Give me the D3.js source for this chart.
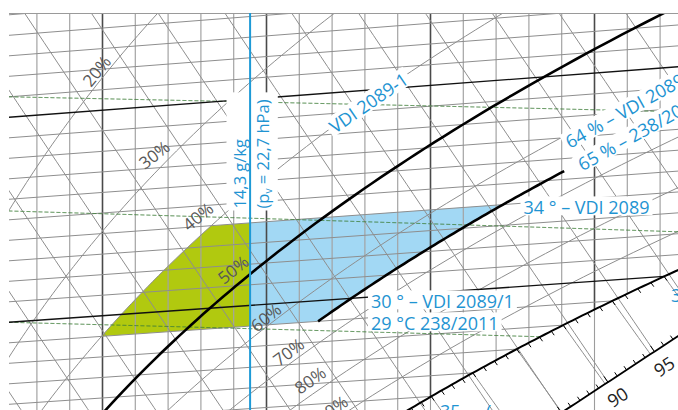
<!DOCTYPE html>
<html><head><meta charset="utf-8">
<script src="https://cdn.jsdelivr.net/npm/d3@7"></script>
<style>
html,body{margin:0;padding:0;background:#fff;}
svg{display:block;}
text{font-family:"Open Sans","Noto Sans",sans-serif;}
</style></head><body>
<svg id="chart" width="678" height="410"></svg>
<script>
// ================= DATA =================
const pressure = 1013.25;                       // hPa
const moistureLines = d3.range(7, 29);          // g/kg, thin vertical lines
const moistureMajor = [10, 15, 20, 25];         // g/kg, dark lines
const isothermValues = d3.range(20, 48);        // °C
const isothermBold = [30, 40];                  // °C
const enthalpyValues = d3.range(40, 120, 5);    // kJ/kg
const rhGray = [10, 20, 30, 40, 60, 70, 80, 90];// %
const rhBold = 50;                              // %
const rhZoneMax = 65.8;                         // % (curve labelled 64 % / 65 %)
const rhZoneMaxRange = [29, 35.4];              // °C
const zoneTemps = [29, 34];                     // °C
const zoneRhMin = 40;                           // %
const zoneMoistureLimit = 14.5;                 // g/kg as drawn (label 14,3 g/kg)
const fogIsotherms = d3.range(20, 33);          // °C
const satTicks = d3.range(22, 32.01, 0.25);     // °C
const hScaleTicks = d3.range(75, 111, 1);       // kJ/kg
const hScaleLabels = [90, 95];                  // kJ/kg
const hScaleEnds = {x: [24.1, 27.55], t: [23.9, 27.1]};
const densityX = [7.15, 27.5];                  // g/kg
const densityLines = [                          // kg/m³, temperature at densityX ends
  {rho: 1.12, t: [41.0, 37.85]},
  {rho: 1.14, t: [35.43, 32.10]},
  {rho: 1.16, t: [30.0, 26.88]}
];
const rhLabels = [
  {text:'20%', x:91,  y:88,  a:-51},
  {text:'30%', x:145, y:170, a:-38.3},
  {text:'40%', x:189, y:232, a:-39.5},
  {text:'50%', x:224, y:285, a:-38.7},
  {text:'60%', x:257, y:333, a:-39.5},
  {text:'70%', x:279, y:367, a:-36.9},
  {text:'80%', x:300, y:395, a:-35},
  {text:'90%', x:322, y:424, a:-35}
];
const blueLabels = [
  {parts:[{text:'VDI 2089-1'}], x:335, y:134, a:-34.5, size:18, box:true},
  {parts:[{text:'64 % – VDI 2089'}], x:570, y:149, a:-29.2, size:18, box:true},
  {parts:[{text:'65 % – 238/2011'}], x:582.5, y:171.5, a:-29.2, size:18, box:true},
  {parts:[{text:'34 ° – VDI 2089'}], x:523.5, y:213.5, a:0, size:18, box:true},
  {parts:[{text:'30 ° – VDI 2089/1'}], x:371, y:307.5, a:0, size:18, box:true},
  {parts:[{text:'29 °C 238/2011'}], x:371, y:329.5, a:0, size:18, box:true},
  {parts:[{text:'35'}], x:440, y:418, a:0, size:18, box:false},
  {parts:[{text:'('}], x:486, y:418, a:0, size:18, box:false},
  {parts:[{text:'35'}], x:671, y:301.5, a:0, size:18, box:false}
];
const limitLabels = [
  {parts:[{text:'14,3 g/kg'}], x:245.5, y:208.5, a:-90, size:16.5},
  {parts:[{text:'(p'},{text:'v', sub:true},{text:' = 22,7 hPa)', back:true}], x:268.5, y:208.5, a:-90, size:16.5}
];

// ================= SCALES / GEOMETRY =================
const W = 678, H = 410;
const frame = {left: 9, top: 13, right: 678, bottom: 410};
const X = d3.scaleLinear().domain([10, 20]).range([102.5, 430.5]);   // g/kg -> px
const T = d3.scaleLinear().domain([30, 40]).range([322.3, 117.3]);   // °C -> px at left edge
const tilt = d3.scaleLinear().domain([30, 40]).range([0.070, 0.0756]);
function P(x, t){ const px = X(x); return [px, T(t) - tilt(t) * (px - frame.left)]; }

const ps = t => 6.112 * Math.exp(17.62 * t / (243.12 + t));
const xOf = (phi, t) => { const pv = phi / 100 * ps(t); return 622 * pv / (pressure - pv); };
const hOf = (x, t) => 1.006 * t + x * (2.501 + 0.00186 * t);
const tOfH = (h, x) => (h - 2.501 * x) / (1.006 + 0.00186 * x);
const xOfH = (h, t) => (h - 1.006 * t) / (2.501 + 0.00186 * t);
const tDew = x => { const pv = x * pressure / (622 + x); const L = Math.log(pv / 6.112); return 243.12 * L / (17.62 - L); };
function bisect(f, a, b){ let fa = f(a); for (let i = 0; i < 70; i++){ const m = (a + b) / 2, fm = f(m); if ((fm > 0) === (fa > 0)){ a = m; fa = fm; } else b = m; } return (a + b) / 2; }
const S = u => ({x: hScaleEnds.x[0] + u * (hScaleEnds.x[1] - hScaleEnds.x[0]), t: hScaleEnds.t[0] + u * (hScaleEnds.t[1] - hScaleEnds.t[0])});
const hS = u => { const s = S(u); return hOf(s.x, s.t); };
const steps = (a, b, st) => { const r = []; if (a <= b){ for (let v = a; v < b; v += st) r.push(v); } else { for (let v = a; v > b; v -= st) r.push(v); } r.push(b); return r; };
const xLeft = X.invert(frame.left);
const line = d3.line();

// ================= DRAW =================
const svg = d3.select('#chart');
svg.append('rect').attr('width', W).attr('height', H).attr('fill', '#fff');
svg.append('defs').append('clipPath').attr('id', 'clip').append('rect')
  .attr('x', frame.left).attr('y', frame.top).attr('width', frame.right - frame.left).attr('height', frame.bottom - frame.top);
const plot = svg.append('g').attr('clip-path', 'url(#clip)');
const path = (pts, stroke, w, extra) => { const p = plot.append('path').attr('d', line(pts)).attr('fill', 'none').attr('stroke', stroke).attr('stroke-width', w); if (extra) extra(p); return p; };

// zones
const zT = steps(zoneTemps[0], zoneTemps[1], 0.25);
const greenPts = [...zT.map(t => P(xOf(zoneRhMin, t), t)), P(zoneMoistureLimit, zoneTemps[1]), P(zoneMoistureLimit, zoneTemps[0])];
const bluePts = [P(zoneMoistureLimit, zoneTemps[1]), ...zT.slice().reverse().map(t => P(xOf(rhZoneMax, t), t)), P(zoneMoistureLimit, zoneTemps[0])];
plot.append('path').attr('d', line(greenPts) + 'Z').attr('fill', '#b1c90f');
plot.append('path').attr('d', line(bluePts) + 'Z').attr('fill', '#a2d8f4');

// vertical moisture lines
moistureLines.forEach(x => {
  const td = tDew(x), major = moistureMajor.includes(x);
  path([P(x, 60), P(x, td)], major ? '#4a4a4a' : '#a3a3a3', major ? 1.6 : 1.2);
  if (major) path([P(x, td), P(x, 0)], '#9c9c9c', 1.1);
});

// gray isotherms
isothermValues.forEach(t => {
  if (isothermBold.includes(t)) return;
  path([P(xLeft - 0.5, t), P(xOf(100, t), t)], '#8e8e8e', 1);
});

// enthalpy lines
enthalpyValues.forEach(h => {
  const u = bisect(v => hS(v) - h, -10, 5), s = S(u);
  const pts = steps(s.t, 60, 0.5).map(t => P(xOfH(h, t), t));
  path(pts, '#8e8e8e', 1);
});

// fog isotherms
fogIsotherms.forEach(t => {
  const xs = xOf(100, t), hs = hOf(xs, t), kw = 0.00419 * t;
  const hF = x => hs + (x - xs) * kw;
  const u = bisect(v => hS(v) - hF(S(v).x), -10, 5), xe = S(u).x;
  if (xe <= xs) return;
  path(steps(xs, xe, 0.1).map(x => P(x, tOfH(hF(x), x))), '#8e8e8e', 1);
});

// gray RH curves
rhGray.forEach(phi => path(steps(10, 55, 0.25).map(t => P(xOf(phi, t), t)), '#8e8e8e', 1));

// density lines (green dashed)
densityLines.forEach(d => {
  const pts = [];
  for (let x = densityX[0] - 0.2; x <= densityX[1] + 0.3; x += 0.02){
    const t = d.t[0] + (x - densityX[0]) / (densityX[1] - densityX[0]) * (d.t[1] - d.t[0]);
    if (x > xOf(100, t)) break;
    pts.push(P(x, t));
  }
  path(pts, '#3f7f3a', 1, p => p.attr('stroke-dasharray', '4,2'));
});

// bold isotherms
isothermBold.forEach(t => path([P(xLeft - 0.5, t), P(xOf(100, t), t)], '#111', 1.35));

// thick RH curves
path(steps(10, 55, 0.25).map(t => P(xOf(rhBold, t), t)), '#000', 2.6);
path(steps(rhZoneMaxRange[0], rhZoneMaxRange[1], 0.1).map(t => P(xOf(rhZoneMax, t), t)), '#000', 2.6);

// saturation curve + ticks
path(steps(15, 35, 0.1).map(t => P(xOf(100, t), t)), '#000', 2);
satTicks.forEach(t => {
  const xs = xOf(100, t), hs = hOf(xs, t), kw = 0.00419 * t;
  const p0 = P(xs, t), p1 = P(xs + 0.3, tOfH(hs + 0.3 * kw, xs + 0.3));
  const dx = p1[0] - p0[0], dy = p1[1] - p0[1], L = Math.hypot(dx, dy);
  path([p0, [p0[0] + 5 * dx / L, p0[1] + 5 * dy / L]], '#000', 1);
});

// enthalpy scale line + ticks
path(steps(-1, 2, 0.05).map(u => { const s = S(u); return P(s.x, s.t); }), '#000', 1.8);
hScaleTicks.forEach(h => {
  const u = bisect(v => hS(v) - h, -10, 5), s = S(u);
  const q = P(s.x, s.t), p1 = P(xOfH(h, s.t + 0.5), s.t + 0.5);
  const dx = p1[0] - q[0], dy = p1[1] - q[1], L = Math.hypot(dx, dy), len = h % 5 === 0 ? 7 : 4.5;
  path([q, [q[0] + len * dx / L, q[1] + len * dy / L]], '#000', 1);
});

// top frame
svg.append('line').attr('x1', frame.left).attr('x2', frame.right).attr('y1', frame.top + 0.5).attr('y2', frame.top + 0.5)
  .attr('stroke', '#9a9a9a').attr('stroke-width', 1);

// enthalpy scale labels
const a0 = P(S(0).x, S(0).t), a1 = P(S(1).x, S(1).t);
const ang = Math.atan2(a1[1] - a0[1], a1[0] - a0[0]);
const nrm = [-Math.sin(ang), Math.cos(ang)];
hScaleLabels.forEach(h => {
  const u = bisect(v => hS(v) - h, -10, 5), s = S(u), q = P(s.x, s.t);
  svg.append('text').attr('transform', `translate(${q[0] + 24.5 * nrm[0]},${q[1] + 24.5 * nrm[1]}) rotate(${ang * 180 / Math.PI})`)
    .attr('text-anchor', 'middle').attr('font-size', 18).attr('fill', '#222').text(h);
});

// RH labels
rhLabels.forEach(l => svg.append('text').attr('transform', `translate(${l.x},${l.y}) rotate(${l.a})`)
  .attr('font-size', 17).attr('fill', '#585858').text(l.text));

// label layers
const boxLayer = svg.append('g');
const limitLayer = svg.append('g');
const textLayer = svg.append('g');
const blue = '#1f94d2';

function addText(spec){
  const g = textLayer.append('g').attr('transform', `translate(${spec.x},${spec.y}) rotate(${spec.a || 0})`);
  const t = g.append('text').attr('font-size', spec.size).attr('fill', blue);
  spec.parts.forEach(p => {
    const ts = t.append('tspan').text(p.text);
    if (p.sub) ts.attr('font-size', spec.size * 0.62).attr('dy', spec.size * 0.2);
    if (p.back) ts.attr('dy', -spec.size * 0.2);
  });
  return t;
}
blueLabels.forEach(spec => {
  const t = addText(spec);
  if (!spec.box) return;
  const len = t.node().getComputedTextLength();
  boxLayer.append('rect').attr('transform', `translate(${spec.x},${spec.y}) rotate(${spec.a || 0})`)
    .attr('x', -3).attr('y', -spec.size * 0.95).attr('width', len + 6).attr('height', spec.size * 1.05).attr('fill', '#fff');
});
// limit labels with one shared box
let bx0 = Infinity, by0 = Infinity, bx1 = -Infinity, by1 = -Infinity;
limitLabels.forEach(spec => {
  const r = addText(spec).node().getBoundingClientRect();
  bx0 = Math.min(bx0, r.left); by0 = Math.min(by0, r.top); bx1 = Math.max(bx1, r.right); by1 = Math.max(by1, r.bottom);
});
boxLayer.append('rect').attr('x', bx0 - 1).attr('y', by0 - 7).attr('width', bx1 - bx0 + 4).attr('height', by1 - by0 + 9).attr('fill', '#fff');

// limit line (blue vertical)
limitLayer.append('path').attr('d', line([P(zoneMoistureLimit, 60), P(zoneMoistureLimit, 0)]))
  .attr('clip-path', 'url(#clip)').attr('stroke', '#1e9ad6').attr('stroke-width', 2).attr('fill', 'none');
</script>
</body></html>
